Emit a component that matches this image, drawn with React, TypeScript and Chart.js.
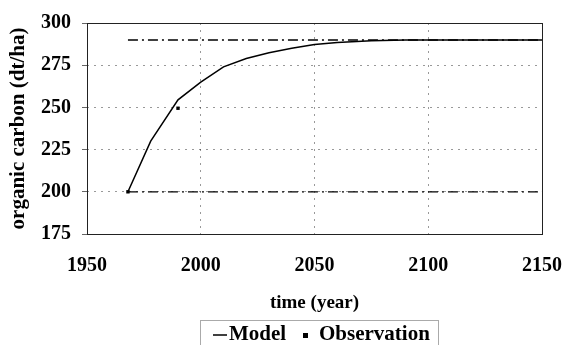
import React, { useEffect, useRef } from "react";
import { Chart, registerables } from "chart.js";

Chart.register(...registerables);

const modelYears = [1968, 1978, 1990, 2000, 2010, 2020, 2030, 2040, 2050, 2060, 2075, 2090, 2110, 2130, 2150];
const modelCarbon = [200, 230, 254.5, 265, 274, 279, 282.4, 285, 287.2, 288.5, 289.5, 290, 290, 290, 290];
const obsYears = [1968, 1990];
const obsCarbon = [200, 249.5];
const boundYears = [1968, 2150];
const upperBound = [290, 290];
const lowerBound = [200, 200];
const legendLabels = ["Model", "Observation"];
const xTitle = "time (year)";
const yTitle = "organic carbon (dt/ha)";

const FONT = "'Liberation Serif', 'Times New Roman', serif";

const pts = (xs: number[], ys: number[]) => xs.map((x, i) => ({ x, y: ys[i] }));

const framePlugin = {
  id: "frame",
  beforeDatasetsDraw(chart: any) {
    const { ctx, chartArea: a } = chart;
    ctx.save();
    ctx.strokeStyle = "#222";
    ctx.lineWidth = 1;
    ctx.strokeRect(Math.round(a.left) + 0.5, Math.round(a.top) + 0.5, Math.round(a.right - a.left), Math.round(a.bottom - a.top));
    ctx.restore();
  },
};

const legendPlugin = {
  id: "boxLegend",
  afterDraw(chart: any) {
    const { ctx } = chart;
    ctx.save();
    ctx.strokeStyle = "#aaa";
    ctx.lineWidth = 1;
    ctx.strokeRect(200.5, 320.5, 238, 30);
    const cy = 335;
    ctx.strokeStyle = "#000";
    ctx.lineWidth = 1.5;
    ctx.beginPath();
    ctx.moveTo(213, cy);
    ctx.lineTo(227, cy);
    ctx.stroke();
    ctx.fillStyle = "#000";
    ctx.fillRect(303, cy - 2, 5, 5);
    ctx.font = `bold 21px ${FONT}`;
    ctx.textBaseline = "middle";
    ctx.textAlign = "left";
    ctx.fillText(legendLabels[0], 229, cy);
    ctx.fillText(legendLabels[1], 319, cy);
    ctx.restore();
  },
};

export default function App() {
  const ref = useRef<HTMLCanvasElement | null>(null);
  useEffect(() => {
    document.body.style.margin = "0";
    const canvas = ref.current!;
    const gridColor = (edgeA: number, edgeB: number) => (c: any) =>
      c.tick && (c.tick.value === edgeA || c.tick.value === edgeB) ? "rgba(0,0,0,0)" : "rgba(0,0,0,0.4)";
    const chart = new Chart(canvas, {
      type: "scatter",
      data: {
        datasets: [
          {
            label: "upper",
            data: pts(boundYears, upperBound),
            showLine: true,
            borderColor: "#000",
            borderWidth: 1.5,
            borderDash: [10, 4, 2, 4],
            pointRadius: 0,
          },
          {
            label: "lower",
            data: pts(boundYears, lowerBound),
            showLine: true,
            borderColor: "#000",
            borderWidth: 1.3,
            borderDash: [10, 4, 2, 4],
            pointRadius: 0,
          },
          {
            label: legendLabels[0],
            data: pts(modelYears, modelCarbon),
            showLine: true,
            borderColor: "#000",
            borderWidth: 1.5,
            pointRadius: 0,
            tension: 0,
          },
          {
            label: legendLabels[1],
            data: pts(obsYears, obsCarbon),
            pointStyle: "rect",
            pointRadius: 2.4,
            backgroundColor: "#000",
            borderColor: "#000",
            borderWidth: 0,
          },
        ],
      },
      options: {
        animation: false,
        responsive: false,
        devicePixelRatio: 1,
        layout: { padding: { top: 16, right: 21, left: 0, bottom: 31 } },
        plugins: { legend: { display: false }, tooltip: { enabled: false } },
        scales: {
          x: {
            type: "linear",
            min: 1950,
            max: 2150,
            afterFit: (s: any) => {
              s.height = 80;
            },
            ticks: {
              stepSize: 50,
              padding: 20,
              color: "#000",
              font: { family: FONT, size: 20, weight: "bold" },
              callback: (v: any) => String(v),
            },
            grid: { color: gridColor(1950, 2150), drawTicks: false, lineWidth: 1 },
            border: { display: false, dash: [2, 5] },
            title: {
              display: true,
              text: xTitle,
              color: "#000",
              font: { family: FONT, size: 19, weight: "bold" },
              padding: { top: 0, bottom: 0 },
            },
          },
          y: {
            type: "linear",
            min: 175,
            max: 300,
            afterFit: (s: any) => {
              s.width = 87;
            },
            ticks: {
              stepSize: 25,
              padding: 11,
              color: "#000",
              font: { family: FONT, size: 20, weight: "bold" },
            },
            grid: {
              color: gridColor(175, 300),
              drawTicks: true,
              tickLength: 5,
              tickColor: "#666",
              lineWidth: 1,
            },
            border: { display: false, dash: [2, 5] },
            title: {
              display: true,
              text: yTitle,
              color: "#000",
              font: { family: FONT, size: 21, weight: "bold" },
              padding: { top: 6, bottom: 0 },
            },
          },
        },
      },
      plugins: [framePlugin, legendPlugin],
    });
    return () => chart.destroy();
  }, []);
  return <canvas ref={ref} width={582} height={345} style={{ display: "block", width: 582, height: 345 }} />;
}
